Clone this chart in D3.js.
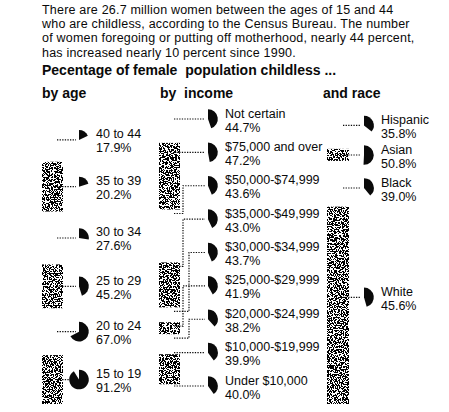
<!DOCTYPE html>
<html>
<head>
<meta charset="utf-8">
<script src="https://cdn.jsdelivr.net/npm/d3@7"></script>
<style>
  html, body { margin: 0; padding: 0; background: #fff; }
  svg { display: block; }
</style>
</head>
<body>
<div id="chart"></div>
<script>
// text
const introLines = [
  'There are 26.7 million women between the ages of 15 and 44',
  'who are childless, according to the Census Bureau. The number',
  'of women foregoing or putting off motherhood, nearly 44 percent,',
  'has increased nearly 10 percent since 1990.'
]
const chartTitle = 'Pecentage of female  population childless ...'
const columnHeads = ['by age', 'by  income', 'and race']

// by age: percent childless, and share of women in the group (stack)
const ageGroups = ['40 to 44', '35 to 39', '30 to 34', '25 to 29', '20 to 24', '15 to 19']
const ageChildless = [17.9, 20.2, 27.6, 45.2, 67.0, 91.2]
const ageShare = [15.3, 17.4, 18.5, 15.3, 16.4, 17.1]

// by income
const incomeGroups = ['Not certain', '$75,000 and over', '$50,000-$74,999', '$35,000-$49,999',
  '$30,000-$34,999', '$25,000-$29,999', '$20,000-$24,999', '$10,000-$19,999', 'Under $10,000']
const incomeChildless = [44.7, 47.2, 43.6, 43.0, 43.7, 41.9, 38.2, 39.9, 40.0]
const incomeShare = [8.7, 23.3, 18.5, 15.7, 5.2, 4.2, 7.0, 10.5, 7.0]

// and race
const raceGroups = ['Hispanic', 'Asian', 'Black', 'White']
const raceChildless = [35.8, 50.8, 39.0, 45.6]
const raceShare = [10.8, 4.2, 16.0, 69.0]

const W = 449, H = 412
const FONT = '"Liberation Sans", Arial, Helvetica, sans-serif'
const INK = '#0a0a0a'
const R = 9.8

const svg = d3.select('#chart').append('svg')
  .attr('width', W).attr('height', H)
  .style('font-family', FONT)

svg.append('rect').attr('width', W).attr('height', H).attr('fill', '#fff')

// halftone-ish stipple for the shaded stack pieces
const defs = svg.append('defs')
const flt = defs.append('filter').attr('id', 'stipple')
  .attr('x', 0).attr('y', 0).attr('width', 1).attr('height', 1)
flt.append('feTurbulence').attr('type', 'fractalNoise')
  .attr('baseFrequency', 0.75).attr('numOctaves', 2).attr('seed', 7).attr('result', 'noise')
flt.append('feColorMatrix').attr('in', 'noise').attr('type', 'matrix')
  .attr('values', '0 0 0 0 0  0 0 0 0 0  0 0 0 0 0  1 0 0 0 0').attr('result', 'a')
const ct = flt.append('feComponentTransfer').attr('in', 'a').attr('result', 'dots')
ct.append('feFuncA').attr('type', 'discrete').attr('tableValues', '0 0 0 0 0 1 1 1 1 1')
flt.append('feComposite').attr('in', 'dots').attr('in2', 'SourceGraphic').attr('operator', 'in')

// intro paragraph, one text block
svg.append('text')
  .style('font-size', '12.5px').style('letter-spacing', '0.2px').attr('fill', INK)
  .selectAll('tspan').data(introLines).join('tspan')
  .attr('x', 42).attr('y', (d, i) => 14 + i * 14.2)
  .text(d => d)

svg.append('text').attr('x', 42).attr('y', 75)
  .style('font-size', '14px').style('font-weight', 'bold').attr('fill', INK)
  .style('white-space', 'pre')
  .text(chartTitle)

const headX = [42, 160, 323]
svg.append('g').selectAll('text').data(columnHeads).join('text')
  .attr('x', (d, i) => headX[i]).attr('y', 98)
  .style('font-size', '14px').style('font-weight', 'bold').attr('fill', INK)
  .style('white-space', 'pre')
  .text(d => d)

// shared vertical scale for the three 100% stacks
const y = d3.scaleLinear().domain([0, 100]).range([118, 404])
const arc = d3.arc().innerRadius(0).outerRadius(R).startAngle(0)

function stackOf(names, share) {
  let acc = 0
  return names.map((n, i) => {
    const s = { name: n, i, y0: y(acc), y1: y(acc + share[i]) }
    acc += share[i]
    s.mid = (s.y0 + s.y1) / 2
    return s
  })
}

function drawColumn(opts) {
  const { names, values, share, stackX, stackW, pieX, rowY, elbow } = opts
  const g = svg.append('g')
  const segs = stackOf(names, share)

  // leaders
  segs.forEach((s, i) => {
    const py = rowY(s, i)
    const x0 = stackX + stackW - 6
    const x1 = pieX - 3
    let path
    if (py >= s.y0 + 3 && py <= s.y1 - 3) {
      path = `M${x0},${py}H${x1}`
    } else {
      const sy = Math.max(s.y0 + 4, Math.min(s.y1 - 4, py))
      if (Math.abs(sy - py) < 6) path = `M${x0},${py}H${x1}`
      else {
        const ex = elbow(i)
        path = `M${x0},${sy}H${ex}V${py}H${x1}`
      }
    }
    g.append('path').attr('d', path).attr('fill', 'none')
      .attr('stroke', INK).attr('stroke-width', 1.2)
      .attr('stroke-dasharray', '1.3,1.3')
  })

  // shaded pieces (every other one)
  g.selectAll('rect.seg').data(segs.filter(s => s.i % 2 === 1)).join('rect')
    .attr('class', 'seg')
    .attr('x', stackX).attr('width', stackW)
    .attr('y', d => d.y0).attr('height', d => d.y1 - d.y0)
    .attr('fill', INK).attr('filter', 'url(#stipple)')

  // pies
  segs.forEach((s, i) => {
    const py = rowY(s, i)
    g.append('path')
      .attr('transform', `translate(${pieX},${py})`)
      .attr('d', arc({ endAngle: 2 * Math.PI * values[i] / 100 }))
      .attr('fill', INK)
    const t = g.append('text').attr('x', pieX + 17).style('font-size', '12.5px').attr('fill', INK)
    t.append('tspan').attr('x', pieX + 17).attr('y', py - 1.5).text(s.name)
    t.append('tspan').attr('x', pieX + 17).attr('y', py + 12.5).text(d3.format('.1f')(values[i]) + '%')
  })
}

// which stack piece is shaded alternates; the first is plain
drawColumn({
  names: ageGroups, values: ageChildless, share: ageShare,
  stackX: 42, stackW: 21, pieX: 79,
  rowY: s => s.mid,
  elbow: () => 70
})

// income rows are evenly spaced; leaders dog-leg into lanes
const incomeRow = d3.scalePoint().domain(d3.range(incomeGroups.length)).range([119, 386])
const incomeLanes = {}
;(function assignLanes() {
  const segs = stackOf(incomeGroups, incomeShare)
  const used = []
  segs.forEach((s, i) => {
    const py = incomeRow(i)
    const sy = Math.max(s.y0 + 4, Math.min(s.y1 - 4, py))
    const lo = Math.min(sy, py), hi = Math.max(sy, py)
    let lane = 0
    while (used.some(u => u.lane === lane && !(hi < u.lo - 2 || lo > u.hi + 2))) lane++
    used.push({ lane, lo, hi })
    incomeLanes[i] = lane
  })
})()
drawColumn({
  names: incomeGroups, values: incomeChildless, share: incomeShare,
  stackX: 159, stackW: 21, pieX: 208,
  rowY: (s, i) => incomeRow(i),
  elbow: i => 183 + incomeLanes[i] * 6
})

drawColumn({
  names: raceGroups, values: raceChildless, share: raceShare,
  stackX: 327, stackW: 22, pieX: 364,
  rowY: (s, i) => Math.max(122 + i * 33, s.mid - 8),
  elbow: () => 356
})
</script>
</body>
</html>
